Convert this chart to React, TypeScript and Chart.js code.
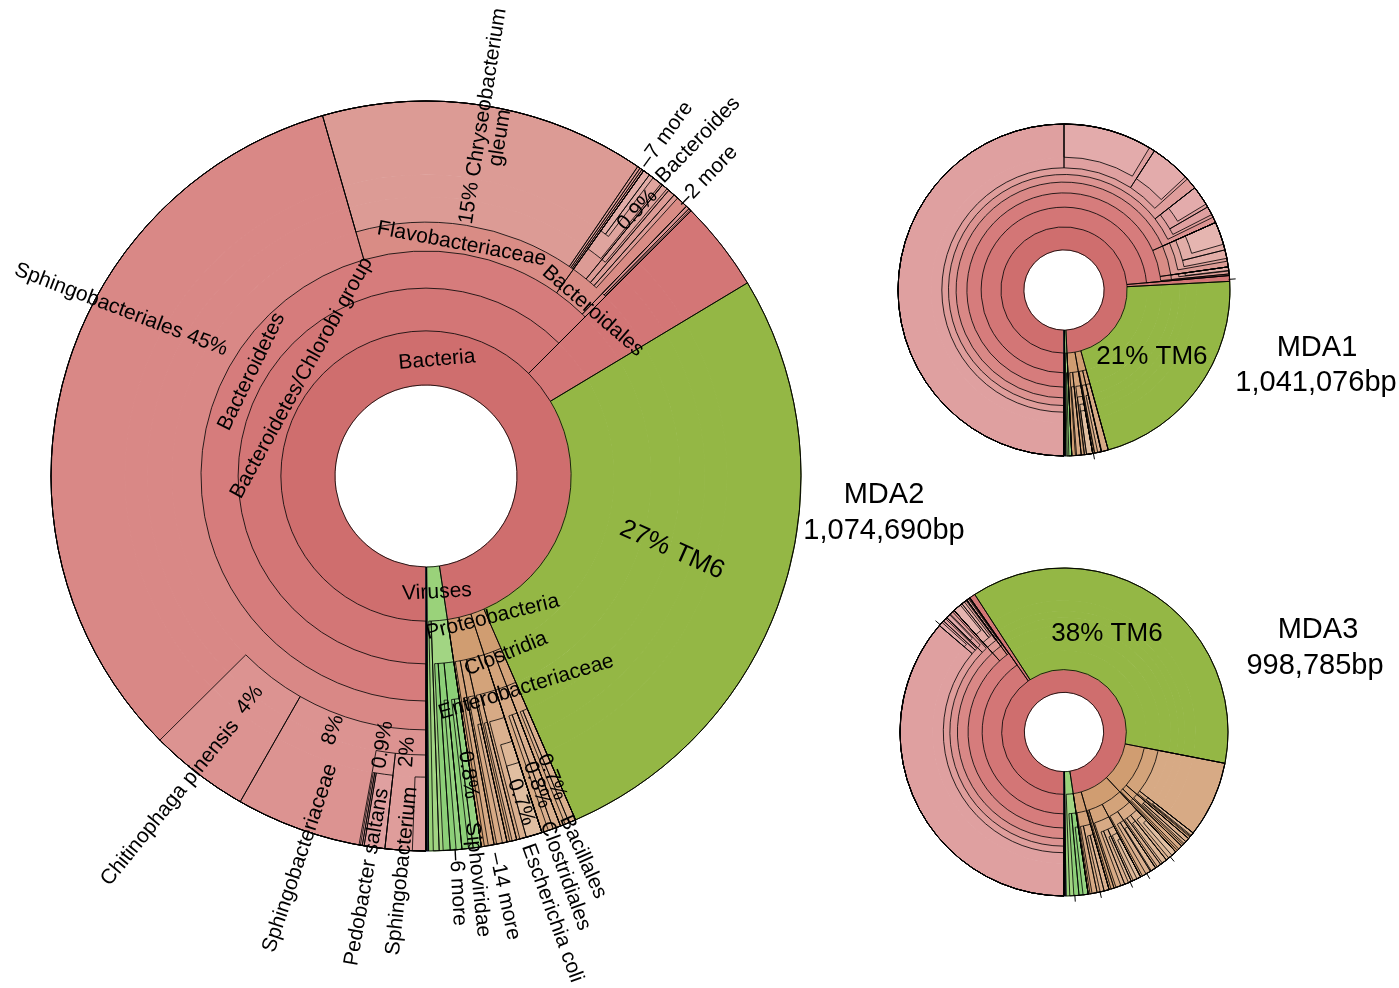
import React, { useEffect, useRef } from 'react';
import { Chart, ArcElement, DoughnutController } from 'chart.js';

Chart.register(ArcElement, DoughnutController);

// ===================== DATA =====================
// Each taxon: [name, parent name ('' = root), share of reads in %]
type Taxon = [string, string, number];

const mda2Taxa: Taxon[] = [
  ['Bacteria', '', 97.64],
  ['Viruses', '', 2.25],
  ['Eukaryota', '', 0.06],
  ['Archaea', '', 0.05],
  ['Bacteroidetes/Chlorobi group', 'Bacteria', 62.5],
  ['other Bacteria', 'Bacteria', 3.89],
  ['TM6', 'Bacteria', 27.08],
  ['Firmicutes', 'Bacteria', 1.53],
  ['Proteobacteria', 'Bacteria', 2.64],
  ['Bacteroidetes', 'Bacteroidetes/Chlorobi group', 62.5],
  ['Sphingobacteriales', 'Bacteroidetes', 45.55],
  ['Flavobacteriaceae', 'Bacteroidetes', 14.31],
  ['Bacteroidales', 'Bacteroidetes', 2.36],
  ['Cytophagales', 'Bacteroidetes', 0.28],
  ['Sphingobacteriaceae', 'Sphingobacteriales', 8.25],
  ['Chitinophaga pinensis', 'Sphingobacteriales', 4.31],
  ['Sphingobacterium', 'Sphingobacteriaceae', 1.75],
  ['Pedobacter', 'Sphingobacteriaceae', 1.11],
  ['Sphingobacterium sp.', 'Sphingobacterium', 0.58],
  ['Pedobacter saltans', 'Pedobacter', 0.89],
  ['Pedobacter heparinus', 'Pedobacter', 0.08],
  ['Pedobacter sp.', 'Pedobacter', 0.08],
  ['Chryseobacterium gleum', 'Flavobacteriaceae', 14.0],
  ['Flavobacterium sp.', 'Flavobacteriaceae', 0.12],
  ['Myroides odoratus', 'Flavobacteriaceae', 0.1],
  ['Elizabethkingia sp.', 'Flavobacteriaceae', 0.085],
  ['Bacteroidaceae', 'Bacteroidales', 1.0],
  ['Porphyromonadaceae', 'Bacteroidales', 0.35],
  ['Prevotellaceae', 'Bacteroidales', 0.3],
  ['Rikenellaceae', 'Bacteroidales', 0.2],
  ['Bacteroides', 'Bacteroidaceae', 0.92],
  ['Bacteroides fragilis', 'Bacteroides', 0.3],
  ['Bacteroides sp.', 'Bacteroides', 0.2],
  ['Parabacteroides', 'Porphyromonadaceae', 0.25],
  ['Cytophagaceae', 'Cytophagales', 0.15],
  ['Flammeovirgaceae', 'Cytophagales', 0.08],
  ['Bacilli', 'Firmicutes', 0.69],
  ['Clostridia', 'Firmicutes', 0.83],
  ['Bacillales', 'Bacilli', 0.69],
  ['Bacillaceae', 'Bacillales', 0.3],
  ['Paenibacillaceae', 'Bacillales', 0.18],
  ['Clostridiales', 'Clostridia', 0.83],
  ['Clostridiaceae', 'Clostridiales', 0.33],
  ['Lachnospiraceae', 'Clostridiales', 0.22],
  ['Gammaproteobacteria', 'Proteobacteria', 1.53],
  ['Betaproteobacteria', 'Proteobacteria', 0.56],
  ['Alphaproteobacteria', 'Proteobacteria', 0.42],
  ['Enterobacterales', 'Gammaproteobacteria', 1.11],
  ['Pseudomonadales', 'Gammaproteobacteria', 0.3],
  ['Enterobacteriaceae', 'Enterobacterales', 0.97],
  ['Escherichia', 'Enterobacteriaceae', 0.69],
  ['Escherichia coli', 'Escherichia', 0.69],
  ['Pseudomonadaceae', 'Pseudomonadales', 0.2],
  ['Burkholderiales', 'Betaproteobacteria', 0.45],
  ['Comamonadaceae', 'Burkholderiales', 0.2],
  ['Rhizobiales', 'Alphaproteobacteria', 0.25],
  ['Caudovirales', 'Viruses', 1.8],
  ['unclassified phages', 'Viruses', 0.25],
  ['Siphoviridae', 'Caudovirales', 0.83],
  ['Myoviridae', 'Caudovirales', 0.5],
  ['Podoviridae', 'Caudovirales', 0.3],
  ['Siphoviridae phage A', 'Siphoviridae', 0.35],
  ['Siphoviridae phage B', 'Siphoviridae', 0.2],
  ['Myoviridae phage A', 'Myoviridae', 0.25],
];

const mda1Taxa: Taxon[] = [
  ['Bacteria', '', 99.25],
  ['Viruses', '', 0.58],
  ['Eukaryota', '', 0.09],
  ['Archaea', '', 0.08],
  ['Bacteroidetes/Chlorobi group', 'Bacteria', 73.61],
  ['other Bacteria', 'Bacteria', 0.56],
  ['TM6', 'Bacteria', 21.53],
  ['Firmicutes', 'Bacteria', 1.53],
  ['Proteobacteria', 'Bacteria', 2.02],
  ['Bacteroidetes', 'Bacteroidetes/Chlorobi group', 73.61],
  ['Sphingobacteriia', 'Bacteroidetes', 68.33],
  ['Flavobacteriia', 'Bacteroidetes', 4.44],
  ['Bacteroidia', 'Bacteroidetes', 0.69],
  ['Sphingobacteriales', 'Sphingobacteriia', 68.33],
  ['Sphingobacteriaceae', 'Sphingobacteriales', 64.44],
  ['Chitinophagaceae', 'Sphingobacteriales', 3.33],
  ['Pedobacter', 'Sphingobacteriaceae', 50.0],
  ['Sphingobacterium', 'Sphingobacteriaceae', 9.17],
  ['Mucilaginibacter', 'Sphingobacteriaceae', 4.17],
  ['Sphingobacterium sp.', 'Sphingobacterium', 8.61],
  ['Mucilaginibacter paludis', 'Mucilaginibacter', 3.9],
  ['Chitinophaga', 'Chitinophagaceae', 2.22],
  ['Niastella', 'Chitinophagaceae', 0.83],
  ['Chitinophaga pinensis', 'Chitinophaga', 1.9],
  ['Flavobacteriales', 'Flavobacteriia', 4.44],
  ['Flavobacteriaceae', 'Flavobacteriales', 3.89],
  ['Chryseobacterium', 'Flavobacteriaceae', 2.78],
  ['Flavobacterium', 'Flavobacteriaceae', 0.83],
  ['Chryseobacterium gleum', 'Chryseobacterium', 2.22],
  ['Bacteroidales', 'Bacteroidia', 0.69],
  ['Bacteroidaceae', 'Bacteroidales', 0.4],
  ['Bacteroides', 'Bacteroidaceae', 0.35],
  ['Bacilli', 'Firmicutes', 0.69],
  ['Clostridia', 'Firmicutes', 0.69],
  ['Bacillales', 'Bacilli', 0.64],
  ['Clostridiales', 'Clostridia', 0.64],
  ['Clostridiaceae', 'Clostridiales', 0.35],
  ['Gammaproteobacteria', 'Proteobacteria', 1.11],
  ['Betaproteobacteria', 'Proteobacteria', 0.56],
  ['Enterobacterales', 'Gammaproteobacteria', 0.83],
  ['Enterobacteriaceae', 'Enterobacterales', 0.78],
  ['Escherichia', 'Enterobacteriaceae', 0.6],
  ['Escherichia coli', 'Escherichia', 0.6],
  ['Burkholderiales', 'Betaproteobacteria', 0.45],
  ['Caudovirales', 'Viruses', 0.44],
  ['Siphoviridae', 'Caudovirales', 0.28],
];

const mda3Taxa: Taxon[] = [
  ['Bacteria', '', 97.64],
  ['Viruses', '', 2.17],
  ['Eukaryota', '', 0.1],
  ['Archaea', '', 0.09],
  ['Bacteroidetes/Chlorobi group', 'Bacteria', 40.28],
  ['other Bacteria', 'Bacteria', 0.56],
  ['TM6', 'Bacteria', 37.22],
  ['Proteobacteria', 'Bacteria', 10.0],
  ['Firmicutes', 'Bacteria', 7.5],
  ['Actinobacteria', 'Bacteria', 2.08],
  ['Bacteroidetes', 'Bacteroidetes/Chlorobi group', 40.28],
  ['Sphingobacteriia', 'Bacteroidetes', 38.3],
  ['Flavobacteriia', 'Bacteroidetes', 1.6],
  ['Bacteroidia', 'Bacteroidetes', 0.3],
  ['Sphingobacteriales', 'Sphingobacteriia', 38.3],
  ['Sphingobacteriaceae', 'Sphingobacteriales', 37.3],
  ['Chitinophagaceae', 'Sphingobacteriales', 0.8],
  ['Pedobacter', 'Sphingobacteriaceae', 36.25],
  ['Sphingobacterium', 'Sphingobacteriaceae', 0.6],
  ['Mucilaginibacter', 'Sphingobacteriaceae', 0.3],
  ['Sphingobacterium sp.', 'Sphingobacterium', 0.4],
  ['Chitinophaga', 'Chitinophagaceae', 0.5],
  ['Chitinophaga pinensis', 'Chitinophaga', 0.4],
  ['Flavobacteriales', 'Flavobacteriia', 1.6],
  ['Flavobacteriaceae', 'Flavobacteriales', 1.5],
  ['Chryseobacterium', 'Flavobacteriaceae', 1.0],
  ['Flavobacterium', 'Flavobacteriaceae', 0.3],
  ['Chryseobacterium gleum', 'Chryseobacterium', 0.8],
  ['Bacteroidales', 'Bacteroidia', 0.3],
  ['Bacteroidaceae', 'Bacteroidales', 0.2],
  ['Gammaproteobacteria', 'Proteobacteria', 8.2],
  ['Betaproteobacteria', 'Proteobacteria', 1.0],
  ['Alphaproteobacteria', 'Proteobacteria', 0.6],
  ['Enterobacterales', 'Gammaproteobacteria', 7.5],
  ['Pseudomonadales', 'Gammaproteobacteria', 0.5],
  ['Pseudomonadaceae', 'Pseudomonadales', 0.4],
  ['Pseudomonas', 'Pseudomonadaceae', 0.3],
  ['Burkholderiales', 'Betaproteobacteria', 0.8],
  ['Comamonadaceae', 'Burkholderiales', 0.4],
  ['Alcaligenaceae', 'Burkholderiales', 0.25],
  ['Rhizobiales', 'Alphaproteobacteria', 0.4],
  ['Bacilli', 'Firmicutes', 4.2],
  ['Clostridia', 'Firmicutes', 2.8],
  ['Erysipelotrichia', 'Firmicutes', 0.3],
  ['Bacillales', 'Bacilli', 2.5],
  ['Lactobacillales', 'Bacilli', 1.5],
  ['Bacillaceae', 'Bacillales', 1.2],
  ['Paenibacillaceae', 'Bacillales', 0.7],
  ['Staphylococcaceae', 'Bacillales', 0.4],
  ['Bacillus', 'Bacillaceae', 0.9],
  ['Bacillus cereus', 'Bacillus', 0.5],
  ['Paenibacillus', 'Paenibacillaceae', 0.5],
  ['Streptococcaceae', 'Lactobacillales', 0.6],
  ['Enterococcaceae', 'Lactobacillales', 0.5],
  ['Streptococcus', 'Streptococcaceae', 0.5],
  ['Clostridiales', 'Clostridia', 2.6],
  ['Clostridiaceae', 'Clostridiales', 1.0],
  ['Lachnospiraceae', 'Clostridiales', 0.7],
  ['Peptostreptococcaceae', 'Clostridiales', 0.4],
  ['Clostridium', 'Clostridiaceae', 0.8],
  ['Clostridium sp.', 'Clostridium', 0.4],
  ['Blautia', 'Lachnospiraceae', 0.3],
  ['Actinobacteria class', 'Actinobacteria', 1.9],
  ['Actinomycetales', 'Actinobacteria class', 1.2],
  ['Bifidobacteriales', 'Actinobacteria class', 0.5],
  ['Micrococcaceae', 'Actinomycetales', 0.5],
  ['Corynebacteriaceae', 'Actinomycetales', 0.4],
  ['Caudovirales', 'Viruses', 1.8],
  ['Siphoviridae', 'Caudovirales', 0.9],
  ['Myoviridae', 'Caudovirales', 0.5],
  ['Siphoviridae phage', 'Siphoviridae', 0.5],
];

// Sample names and total sizes
const mda2Title = ['MDA2', '1,074,690bp'];
const mda1Title = ['MDA1', '1,041,076bp'];
const mda3Title = ['MDA3', '998,785bp'];

// Label texts drawn on the charts
const mda2LabelTexts = [
  'Bacteria', 'Bacteroidetes/Chlorobi group', 'Bacteroidetes', 'Flavobacteriaceae', 'Bacteroidales',
  'Sphingobacteriales 45%', '15% Chryseobacterium', 'gleum', '\u20137 more', 'Bacteroides', '\u20132 more', '0.9%',
  '27% TM6', 'Viruses', 'Proteobacteria', 'Clostridia', 'Enterobacteriaceae', '4%', 'Chitinophaga pinensis',
  '8%', 'Sphingobacteriaceae', '0.9%', '2%', 'Pedobacter saltans', 'Sphingobacterium', '0.8%', 'Siphoviridae',
  '\u20136 more', '\u201314 more', 'Escherichia coli', 'Clostridiales', 'Bacillales', '0.7%', '0.8%', '0.7%',
];
const mda1LabelTexts = ['21% TM6'];
const mda3LabelTexts = ['38% TM6'];

// ===================== LAYOUT / STYLE =====================
// ring boundaries as fraction of outer radius (first = hole)
const mda2RingFracs = [0.2427, 0.387, 0.501, 0.6, 0.677, 0.744, 0.803, 1.0];
const smallRingFracs = [0.242, 0.38, 0.499, 0.585, 0.65, 0.696, 0.736, 0.8, 1.0];

// label layout: [angle deg (clockwise from east), radius x R, rotation deg, font px]
const mda2LabelLayout: number[][] = [
  [-84.6, 0.311, -5, 21], [218.25, 0.422, -61, 21], [210.9, 0.542, -64, 21], [-81.25, 0.626, 10.6, 21],
  [-44.65, 0.626, 41, 21], [208.6, 0.926, 21, 21], [-81, 0.972, -81, 21], [-77.65, 0.923, -81, 21],
  [-54.87, 1.112, -54, 21], [-51, 1.153, -46, 21], [-46.77, 1.096, -46, 21], [-51.5, 0.906, -46, 21],
  [16.74, 0.685, 24, 26], [84.6, 0.311, -3, 21], [64.75, 0.416, -14, 21], [65.8, 0.52, -22, 21],
  [64.6, 0.623, -17, 21], [128.2, 0.76, -51, 21], [128.05, 1.107, -51, 21], [110.1, 0.721, -71, 21],
  [108.25, 1.073, -71.5, 21], [99.1, 0.726, -81, 21], [93.9, 0.738, -86, 21], [98.4, 1.081, -80, 21],
  [93.5, 1.055, -84, 21], [82, 0.805, 82, 21], [82.7, 1.085, 84, 21], [85.6, 1.1, 87, 21],
  [79.4, 1.14, 78, 21], [73.9, 1.213, 70, 21], [70.8, 1.129, 70, 21], [67.6, 1.099, 66, 21],
  [67.3, 0.87, 68, 21], [70.2, 0.875, 70, 21], [73.75, 0.906, 71, 21],
];
const mda1LabelLayout: number[][] = [[37.3, 0.666, 0, 26]];
const mda3LabelLayout: number[][] = [[-66.3, 0.652, 0, 26]];

const mda1Ticks = [-3.7, 79.8];
const mda3Ticks = [86.2, 77.3, 66.2, 59.7, 49.6, 220.9];

const familyOf: Record<string, string> = {
  TM6: 'tm6', Firmicutes: 'tan', Proteobacteria: 'tan', Actinobacteria: 'tan', Viruses: 'virus',
  Eukaryota: 'euk', Archaea: 'arch', Flavobacteriaceae: 'salmon', Flavobacteriia: 'salmon',
  Bacteroidales: 'salmon', Bacteroidia: 'salmon',
};

const palettes: Record<string, string[]> = {
  red: ['#CF6E6E', '#CF6E6E', '#D37676', '#D67C7C', '#D98886', '#DC9391', '#DF9D9B', '#DFA0A0', '#E3ABAB'],
  salmon: ['#CF6E6E', '#CF6E6E', '#D37676', '#D67C7C', '#D98C85', '#DC9B95', '#DFA49E', '#E2ADA7', '#E5B5B0'],
  tan: ['#CF9C6F', '#CF9C6F', '#D09D71', '#D3A37A', '#D7AA85', '#DAB08F', '#DDB797', '#E0BEA1', '#E3C5AB'],
  virus: ['#9AD27A', '#9AD27A', '#A2D583', '#8CCF78', '#95D381', '#9ED78A', '#A6DA93', '#AEDD9C', '#B6E0A5'],
  tm6: Array(9).fill('#94B745'),
  euk: Array(9).fill('#8A6DC5'),
  arch: Array(9).fill('#5D9ED5'),
};

const FONT = '"Liberation Sans", Arial, Helvetica, sans-serif';

interface TNode { name: string; value: number; depth: number; family: string; children: TNode[]; }

function buildTree(taxa: Taxon[]): TNode {
  const root: TNode = { name: '', value: 100, depth: 0, family: 'red', children: [] };
  const byName: Record<string, TNode> = { '': root };
  for (const [name, parent, value] of taxa) {
    const p = byName[parent];
    const node: TNode = { name, value, depth: p.depth + 1, family: familyOf[name] ?? p.family, children: [] };
    p.children.push(node);
    byName[name] = node;
  }
  return root;
}

function colorOf(n: TNode) {
  const pal = palettes[n.family];
  return pal[Math.min(n.depth, pal.length - 1)];
}

function ringSegments(root: TNode, k: number) {
  const out: { v: number; color: string; real: boolean }[] = [];
  const walk = (n: TNode) => {
    let used = 0;
    for (const c of n.children) {
      if (c.depth === k) out.push({ v: c.value, color: colorOf(c), real: true });
      else walk(c);
      used += c.value;
    }
    const rest = n.value - used;
    if (rest > 1e-6) out.push({ v: rest, color: n.depth === 0 ? 'rgba(0,0,0,0)' : colorOf(n), real: false });
  };
  walk(root);
  return out;
}

interface KronaSpec {
  taxa: Taxon[];
  fracs: number[];
  radius: number;
  padding: { left: number; right: number; top: number; bottom: number };
  labelTexts: string[];
  labelLayout: number[][];
  title: string[];
  titleLayout: number[][]; // [dx, baseline dy, font px]
  ticks: number[];
}

function kronaConfig(spec: KronaSpec): any {
  const root = buildTree(spec.taxa);
  const rings = spec.fracs.length - 1;
  const datasets: any[] = [];
  for (let k = rings; k >= 1; k--) {
    const segs = ringSegments(root, k);
    datasets.push({
      data: segs.map((s) => s.v),
      backgroundColor: segs.map((s) => s.color),
      borderColor: segs.map((s) => s.color),
      borderWidth: 1,
      weight: spec.fracs[k] - spec.fracs[k - 1],
      real: segs.map((s) => s.real),
    });
  }

  const outlinePlugin = {
    id: 'kronaOutline',
    afterDatasetsDraw(chart: any) {
      const ctx = chart.ctx;
      const outerR = chart.getDatasetMeta(0).data[0].outerRadius;
      ctx.save();
      ctx.strokeStyle = 'rgba(0,0,0,0.9)';
      ctx.lineWidth = 0.9;
      chart.data.datasets.forEach((ds: any, i: number) => {
        const meta = chart.getDatasetMeta(i);
        meta.data.forEach((arc: any, j: number) => {
          if (!ds.real[j]) return;
          ctx.beginPath();
          ctx.arc(arc.x, arc.y, outerR, arc.startAngle, arc.endAngle);
          ctx.arc(arc.x, arc.y, arc.innerRadius, arc.endAngle, arc.startAngle, true);
          ctx.closePath();
          ctx.stroke();
        });
      });
      ctx.restore();
    },
  };

  const textPlugin = {
    id: 'kronaText',
    afterDraw(chart: any) {
      const ctx = chart.ctx;
      const a0 = chart.getDatasetMeta(0).data[0];
      const cx = a0.x, cy = a0.y, R = a0.outerRadius;
      ctx.save();
      ctx.fillStyle = '#000';
      ctx.strokeStyle = '#000';
      ctx.lineWidth = 1;
      for (const t of spec.ticks) {
        const a = (t * Math.PI) / 180;
        ctx.beginPath();
        ctx.moveTo(cx + (R - 1) * Math.cos(a), cy + (R - 1) * Math.sin(a));
        ctx.lineTo(cx + (R + 6) * Math.cos(a), cy + (R + 6) * Math.sin(a));
        ctx.stroke();
      }
      spec.labelTexts.forEach((txt, i) => {
        const [ang, rf, rot, size] = spec.labelLayout[i];
        const a = (ang * Math.PI) / 180;
        ctx.save();
        ctx.translate(cx + rf * R * Math.cos(a), cy + rf * R * Math.sin(a));
        ctx.rotate((rot * Math.PI) / 180);
        ctx.font = `${size}px ${FONT}`;
        ctx.textAlign = 'center';
        ctx.textBaseline = 'middle';
        ctx.fillText(txt, 0, 0);
        ctx.restore();
      });
      spec.title.forEach((txt, i) => {
        const [dx, dy, size] = spec.titleLayout[i];
        ctx.font = `${size}px ${FONT}`;
        ctx.textAlign = 'center';
        ctx.textBaseline = 'alphabetic';
        ctx.fillText(txt, cx + dx, cy + dy);
      });
      ctx.restore();
    },
  };

  return {
    type: 'doughnut',
    data: { labels: [], datasets },
    options: {
      responsive: false,
      animation: false,
      events: [],
      devicePixelRatio: 1,
      rotation: 180,
      circumference: 360,
      radius: spec.radius,
      cutout: `${spec.fracs[0] * 100}%`,
      layout: { padding: spec.padding },
      plugins: { legend: { display: false }, tooltip: { enabled: false } },
    },
    plugins: [outlinePlugin, textPlugin],
  };
}

function KronaCanvas({ spec, left, top, width, height }: { spec: KronaSpec; left: number; top: number; width: number; height: number }) {
  const ref = useRef<HTMLCanvasElement>(null);
  useEffect(() => {
    const chart = new Chart(ref.current as HTMLCanvasElement, kronaConfig(spec));
    return () => chart.destroy();
  }, [spec]);
  return (
    <canvas
      ref={ref}
      width={width}
      height={height}
      style={{ position: 'absolute', left, top, width, height }}
    />
  );
}

const mda2Spec: KronaSpec = {
  taxa: mda2Taxa,
  fracs: mda2RingFracs,
  radius: 375,
  padding: { left: 0, top: 0, right: 547, bottom: 36 },
  labelTexts: mda2LabelTexts,
  labelLayout: mda2LabelLayout,
  title: mda2Title,
  titleLayout: [[458, 27, 29], [458, 63, 29]],
  ticks: [],
};

const mda1Spec: KronaSpec = {
  taxa: mda1Taxa,
  fracs: smallRingFracs,
  radius: 166,
  padding: { left: 0, top: 0, right: 151, bottom: 0 },
  labelTexts: mda1LabelTexts,
  labelLayout: mda1LabelLayout,
  title: mda1Title,
  titleLayout: [[253, 66, 29], [252, 101, 29]],
  ticks: mda1Ticks,
};

const mda3Spec: KronaSpec = {
  taxa: mda3Taxa,
  fracs: smallRingFracs,
  radius: 164,
  padding: { left: 0, top: 0, right: 151, bottom: 16 },
  labelTexts: mda3LabelTexts,
  labelLayout: mda3LabelLayout,
  title: mda3Title,
  titleLayout: [[254, -94, 29], [251, -58, 29]],
  ticks: mda3Ticks,
};

export default function App() {
  return (
    <div style={{ position: 'absolute', left: 0, top: 0, width: 1399, height: 988, overflow: 'hidden', background: '#fff' }}>
      <KronaCanvas spec={mda2Spec} left={0} top={0} width={1399} height={988} />
      <KronaCanvas spec={mda1Spec} left={880} top={100} width={519} height={380} />
      <KronaCanvas spec={mda3Spec} left={880} top={540} width={519} height={400} />
    </div>
  );
}
